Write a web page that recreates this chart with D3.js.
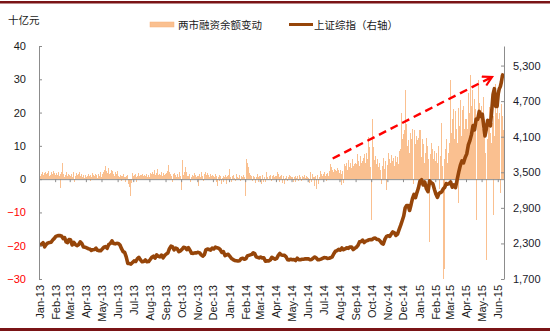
<!DOCTYPE html>
<html><head><meta charset="utf-8">
<script src="https://cdn.jsdelivr.net/npm/d3@7"></script>
<style>body{margin:0;background:#fff}</style>
</head><body><svg id="c" width="550" height="332"></svg>
<script>
// ---------- DATA ----------
const tickLabels = ["Jan-13","Feb-13","Mar-13","Apr-13","May-13","Jun-13","Jul-13","Aug-13","Sep-13","Oct-13","Nov-13","Dec-13",
  "Jan-14","Feb-14","Mar-14","Apr-14","May-14","Jun-14","Jul-14","Aug-14","Sep-14","Oct-14","Nov-14","Dec-14",
  "Jan-15","Feb-15","Mar-15","Apr-15","May-15","Jun-15"];
const leftTicks = [-30,-20,-10,0,10,20,30,40];
const rightTicks = [1700,2300,2900,3500,4100,4700,5300];
const lastDay = "2015-06-13";
const seriesNames = ["两市融资余额变动","上证综指（右轴）"];
const unitLabel = "十亿元";

// daily change of margin financing balance (十亿元), one string per month
const marginChange = [
 "1.2 0.8 1.5 2.0 1.1 0.6 1.8 2.2 1.4 0.9 1.7 2.5 1.0 1.3 2.1 0.7 1.6 2.4 1.9 1.2",
 "1.8 1.2 2.1 0.9 -2.7 1.4 2.0 4.8 1.5 0.7 1.3 2.2 0.8 1.6 1.1",
 "1.0 1.5 0.6 2.0 1.3 -0.8 0.9 1.7 1.2 0.5 1.4 2.1 0.8 1.0 1.6 0.7 1.2 0.4 1.1 0.9",
 "0.6 1.0 1.5 0.8 -0.5 1.2 0.7 1.9 1.3 0.5 0.9 1.6 1.1 0.4 1.4 0.8 1.0 2.2 0.6",
 "1.5 2.0 2.8 1.2 3.8 2.5 1.7 3.2 2.0 1.4 1.8 2.6 1.1 2.3 1.5 0.9 2.0 1.6 1.2 2.4",
 "1.0 0.5 1.2 0.8 -0.6 0.9 1.4 0.7 0.5 -1.0 0.8 1.1 -1.5 -2.5 -5.2 -3.8 -1.2 1.8 1.0",
 "1.2 0.8 1.5 0.6 -0.8 1.0 1.7 0.9 0.4 1.3 0.7 1.1 1.6 0.5 0.9 1.2 0.8 1.4 1.0 0.6 1.3 0.9 0.7",
 "1.0 1.8 1.4 2.2 0.9 1.5 2.6 1.2 0.8 1.9 3.0 1.1 1.6 0.7 1.3 2.0 1.4 0.9 1.7 1.2 1.0 1.5",
 "1.8 2.5 3.0 4.3 2.2 1.6 1.0 -0.8 1.4 0.9 1.8 1.2 0.7 1.5 1.0 0.6 2.0 0.8 -3.4",
 "5.8 1.2 2.0 1.5 3.5 2.2 1.0 0.8 1.6 -1.0 0.5 1.3 0.9 1.7 1.1 0.6 1.0",
 "-2.2 0.8 1.5 0.6 1.2 2.0 1.0 -0.5 0.7 1.4 2.2 1.1 0.9 1.8 1.3 0.6 1.0 1.5 0.8 1.2 0.7",
 "1.0 0.5 1.5 -1.0 0.8 -2.0 0.6 1.2 -0.5 0.9 -1.5 0.4 1.0 -0.8 0.7 1.3 0.5 -1.4 0.9 1.1 0.6",
 "3.0 0.5 -0.8 1.0 0.6 1.2 0.4 -0.5 0.9 1.5 0.7 0.3 1.1 0.8 -0.6 1.0 0.5 1.3 0.8 0.6 -5.2",
 "6.0 5.0 2.2 3.5 1.8 1.2 0.8 -0.6 1.0 0.5 -1.2 0.7 1.4 0.6 -0.8 0.9",
 "0.8 -1.5 0.5 1.2 -0.8 0.6 -1.0 1.5 2.0 0.7 -0.4 1.0 0.5 1.3 -0.6 0.8 0.4 1.1 0.6 0.9 -0.5",
 "1.0 2.0 1.5 0.6 -0.8 0.9 1.2 -1.2 0.5 0.8 -1.5 0.4 1.0 0.7 -0.6 0.5 1.1 0.3 0.8 0.6",
 "0.5 -0.8 0.6 1.0 -1.0 0.4 0.8 -0.5 1.2 0.6 0.3 -0.7 0.9 0.5 1.1 0.4 -0.3 0.8 0.6",
 "0.4 -1.2 0.8 2.0 -0.9 1.5 0.6 -2.0 0.5 1.0 -3.0 0.7 1.2 -1.5 0.6 2.5 0.9 1.4 0.8 1.6",
 "1.2 2.0 0.8 1.5 -0.6 1.8 1.0 2.5 1.3 4.4 2.0 3.7 2.8 1.5 2.2 3.0 2.6 1.9 2.4 3.2 2.1 2.7 1.8",
 "2.7 -1.8 1.5 2.5 -1.2 3.0 4.5 3.8 5.0 2.8 4.2 5.7 3.5 4.8 2.0 3.3 6.0 4.0 4.5 2.5 5.0",
 "4.5 6.0 7.7 5.5 3.8 7.0 6.2 4.8 5.5 3.0 6.5 7.7 5.0 4.2 8.0 6.0 12.7 9.7 5.0 3.5 -12.3",
 "18.2 9.7 5.7 7.0 4.5 6.0 3.5 5.0 2.8 -1.5 4.0 6.5 3.0 5.5 -3.3 4.2",
 "8.0 4.5 6.0 5.0 7.2 3.8 5.5 6.5 4.0 7.0 5.2 3.5 6.8 4.6 8.5 6.2 9.0 20.0 12.0 13.7",
 "10.0 14.7 26.7 16.7 12.5 10.0 3.0 11.7 8.0 14.0 9.5 12.0 15.0 -1.5 11.7 14.7 10.5 13.0 11.7 9.0 12.5 14.7",
 "11.7 14.7 6.7 12.0 9.0 10.5 5.0 8.0 7.0 12.5 10.0 6.0 -18.8 3.0 7.5 11.0 9.0 6.0 4.5 8.5 5.5",
 "8.0 5.0 10.0 -3.0 7.0 16.8 4.0 -30.0 -27.0 6.0 9.0 12.0 5.0 8.0 11.0",
 "29.7 14.0 18.0 10.0 21.0 12.0 20.5 8.0 15.0 11.0 21.5 -7.2 16.0 19.0 23.7 13.0 20.7 17.0 22.0 15.0 18.0 12.0",
 "18.0 15.0 25.8 20.0 17.0 31.2 22.0 19.0 26.7 16.0 24.0 14.0 21.0 -12.3 18.0 29.7 20.0 23.0 15.0 19.0 22.0",
 "15.0 24.7 10.0 18.0 8.0 -24.3 12.0 16.0 9.0 21.7 14.0 11.0 17.0 -10.7 19.0 13.0 28.7 20.0 16.0 26.7",
 "18.0 12.0 20.0 -4.2 22.7 15.0 10.0 19.0 14.7 8.0"
];

// Shanghai Composite Index (right axis), one string per month
const shIndex = [
 "2276 2285 2311 2243 2284 2309 2315 2320 2358 2385",
 "2419 2428 2433 2432 2421 2383 2397 2325 2314 2365",
 "2360 2273 2318 2283 2263 2278 2327 2300 2241 2237",
 "2225 2212 2206 2181 2194 2197 2219 2184 2178 2178",
 "2205 2235 2246 2217 2283 2299 2344 2299 2293 2301",
 "2300 2274 2211 2162 2148 2073 1963 1960 1951 1979",
 "2005 1995 2039 2065 2022 1990 1994 2021 1990 1994",
 "2029 2068 2085 2052 2106 2082 2073 2104 2057 2098",
 "2122 2139 2213 2255 2242 2192 2221 2207 2160 2175",
 "2198 2235 2228 2194 2230 2183 2134 2132 2141 2141",
 "2150 2140 2106 2086 2110 2192 2206 2197 2188 2220",
 "2207 2238 2226 2218 2197 2148 2161 2096 2109 2116",
 "2083 2045 2028 2013 2009 2004 2008 2043 2051 2033",
 "2044 2090 2099 2107 2115 2141 2128 2076 2066 2056",
 "2071 2053 2057 2002 2006 2005 2021 2066 2047 2034",
 "2047 2098 2131 2105 2101 2098 2074 2025 2021 2034",
 "2026 2028 2011 2050 2027 2024 2032 2034 2040 2039",
 "2039 2024 2029 2052 2071 2053 2024 2026 2036 2048",
 "2060 2059 2046 2049 2059 2074 2126 2169 2178 2201",
 "2185 2223 2194 2207 2226 2217 2240 2238 2197 2218",
 "2235 2266 2326 2331 2356 2315 2339 2347 2363 2364",
 "2363 2387 2389 2367 2366 2341 2302 2290 2373 2420",
 "2430 2419 2458 2494 2478 2434 2456 2532 2604 2683",
 "2763 2899 2940 2939 2856 2953 3061 3128 3072 3157 3234",
 "3351 3374 3285 3336 3223 3173 3355 3323 3305 3210",
 "3128 3075 3141 3157 3173 3222 3246 3310 3299 3310",
 "3336 3248 3286 3241 3372 3502 3617 3691 3660 3748",
 "3810 3961 4034 4135 4287 4217 4399 4393 4527 4441",
 "4480 4298 4112 4229 4376 4308 4283 4529 4813 4910 4612 4611",
 "4828 4910 4947 5023 5131 5166"
];

// dashed trend arrow annotation (date, left-axis value)
const arrowDates = ["2014-07-19","2015-05-21"];
const arrowValues = [6.2, 30.7];

// ---------- BUILD ----------
const parseM = d3.timeParse("%b-%y");
const parseD = d3.timeParse("%Y-%m-%d");
const monthStart = tickLabels.map(parseM);
const endDate = parseD(lastDay);

function expand(strs){
  const out = [];
  strs.forEach((s,m)=>{
    const vals = s.trim().split(/\s+/).map(Number);
    const a = monthStart[m], b = m < strs.length-1 ? monthStart[m+1] : endDate;
    vals.forEach((v,i)=> out.push({date:new Date(+a + (i+0.5)/vals.length*(b-a)), value:v}));
  });
  return out;
}
const bars = expand(marginChange);
const line = expand(shIndex);

const svg = d3.select("#c");
const FONT = "'Liberation Sans', Arial, sans-serif";
const CJK = "'Noto Sans CJK SC', sans-serif";

const x = d3.scaleTime().domain([monthStart[0], endDate]).range([39, 504]);
const yL = d3.scaleLinear().domain([-30, 40]).range([279, 46]);
const yR = d3.scaleLinear().domain([1700, 5630]).range([279, 46]);

// borders
svg.append("rect").attr("x",0).attr("y",1).attr("width",550).attr("height",2.5).attr("fill","#7a1416");
svg.append("rect").attr("x",0).attr("y",328).attr("width",550).attr("height",3).attr("fill","#7a1416");

// bars
svg.append("g").selectAll("rect").data(bars).join("rect")
  .attr("x", d=>Math.round(x(d.date)))
  .attr("width", 1)
  .attr("y", d=>Math.min(yL(d.value), yL(0)))
  .attr("height", d=>Math.abs(yL(d.value)-yL(0)))
  .attr("fill", "#fac090")
  .attr("shape-rendering","crispEdges");

// x axis at zero
const xa = svg.append("g").attr("transform",`translate(0,${yL(0)})`)
  .call(d3.axisBottom(x).tickValues(monthStart).tickSize(3).tickSizeOuter(0).tickFormat(""));
xa.selectAll("path,line").attr("stroke","#8c8c8c");

// index line
svg.append("path").datum(line)
  .attr("fill","none").attr("stroke","#964509").attr("stroke-width",3.6)
  .attr("stroke-linejoin","round")
  .attr("d", d3.line().x(d=>x(d.date)).y(d=>yR(d.value)));

// arrow
const defs = svg.append("defs");
defs.append("marker").attr("id","ah").attr("markerUnits","userSpaceOnUse")
  .attr("viewBox","0 0 12 12").attr("markerWidth",12).attr("markerHeight",12)
  .attr("refX",10).attr("refY",6).attr("orient","auto")
  .append("path").attr("d","M1,1 L10,6 L1,11").attr("fill","none").attr("stroke","#ff0000").attr("stroke-width",2.2);
svg.append("line")
  .attr("x1", x(parseD(arrowDates[0]))).attr("y1", yL(arrowValues[0]))
  .attr("x2", x(parseD(arrowDates[1]))).attr("y2", yL(arrowValues[1]))
  .attr("stroke","#ff0000").attr("stroke-width",2.4).attr("stroke-dasharray","8,5")
  .attr("marker-end","url(#ah)");

// left axis
const la = svg.append("g").attr("transform","translate(39,0)")
  .call(d3.axisLeft(yL).tickValues(leftTicks).tickSize(-3).tickSizeOuter(0).tickPadding(13));
la.selectAll("path,line").attr("stroke","#8c8c8c");
la.selectAll("text").attr("font-family",FONT).attr("font-size",11)
  .attr("fill", d=> d<0 ? "#ff0000" : "#1a1a1a");

// right axis
const ra = svg.append("g").attr("transform","translate(504,0)")
  .call(d3.axisRight(yR).tickValues(rightTicks).tickSize(-3).tickSizeOuter(0).tickPadding(9).tickFormat(d3.format(",")));
ra.selectAll("path,line").attr("stroke","#8c8c8c");
ra.selectAll("text").attr("font-family",FONT).attr("font-size",11).attr("fill","#1a1a2a");

// x labels (rotated, at bottom)
svg.append("g").selectAll("text").data(monthStart).join("text")
  .attr("transform", (d)=>`translate(${x(d)+0.5},285) rotate(-90)`)
  .attr("text-anchor","end").attr("dominant-baseline","central")
  .attr("font-family",FONT).attr("font-size",11).attr("fill","#1a1a1a")
  .text((d,i)=>tickLabels[i]);

// unit label
svg.append("text").attr("x",8).attr("y",19).attr("dominant-baseline","central")
  .attr("font-family",CJK).attr("font-size",10.5).attr("fill","#1a1a1a").text(unitLabel);

// legend
svg.append("rect").attr("x",150).attr("y",22).attr("width",24).attr("height",5)
  .attr("fill","#fac090").attr("stroke","#f5b07a").attr("stroke-width",0.5);
svg.append("text").attr("x",178).attr("y",24.5).attr("dominant-baseline","central")
  .attr("font-family",CJK).attr("font-size",10.5).attr("fill","#1a1a1a").text(seriesNames[0]);
svg.append("line").attr("x1",289).attr("x2",313).attr("y1",24.5).attr("y2",24.5)
  .attr("stroke","#964509").attr("stroke-width",3);
svg.append("text").attr("x",314).attr("y",24.5).attr("dominant-baseline","central")
  .attr("font-family",CJK).attr("font-size",10.5).attr("fill","#1a1a1a").text(seriesNames[1]);
</script></body></html>
